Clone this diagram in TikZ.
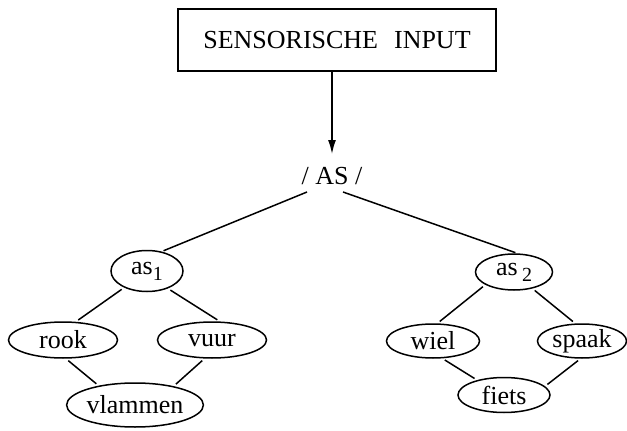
\documentclass[tikz,border=0pt]{standalone}
\usepackage{fontspec}
\setmainfont{Liberation Serif}
\newfontfamily\labelfont{Liberation Serif}
\usetikzlibrary{shapes.geometric,arrows.meta}

% subscript index for the "as" nodes
\newcommand{\idx}[1]{\raisebox{-6pt}{\fontsize{20}{20}\selectfont #1}}

\tikzset{
  x=1pt, y=-1pt,
  every node/.style={font=\labelfont\fontsize{26}{30}\selectfont},
  word/.style={ellipse, draw, line width=1.5pt, inner sep=0pt},
  link/.style={line width=1.5pt, shorten <=3pt, shorten >=3pt},
  inbox/.style={draw, line width=1.5pt, minimum width=318pt, minimum height=62pt, inner sep=0pt}
}

\begin{document}
\begin{tikzpicture}
  \useasboundingbox (0,0) rectangle (627,431);

  % input box and the word form it produces
  \node[inbox] (input) at (337,40) {SENSORISCHE\hspace{16pt}INPUT};
  \node[inner sep=0pt, anchor=base] (AS) at (332,184) {/ AS /};

  % the two meanings
  \node[word, minimum width=72pt, minimum height=41pt] (as1) at (147,271) {as\idx{1}};
  \node[word, minimum width=77pt, minimum height=36pt] (as2) at (514,272) {as\,\idx{2}};

  % associations of the first meaning
  \node[word, minimum width=109pt, minimum height=36pt] (rook) at (63,340) {rook};
  \node[word, minimum width=109pt, minimum height=36pt] (vuur) at (212,340) {vuur};
  \node[word, minimum width=134pt, minimum height=44pt] (vlammen) at (135,405) {vlammen};

  % associations of the second meaning
  \node[word, minimum width=93pt, minimum height=34pt] (wiel) at (433,341) {wiel};
  \node[word, minimum width=89pt, minimum height=34pt] (spaak) at (582,341) {spaak};
  \node[word, minimum width=92pt, minimum height=35pt] (fiets) at (504,395) {fiets};

  % arrow from input to word form
  \draw[line width=1.5pt, -{Latex[length=14pt,width=8pt]}]
    ([xshift=-5pt]input.south) -- ([yshift=30pt]AS.base);

  % word form to meanings
  \draw[line width=1.5pt, shorten >=2pt] ([xshift=-25pt,yshift=-8pt]AS.base) -- (as1.53);
  \draw[line width=1.5pt, shorten >=2pt] ([xshift=11pt,yshift=-8pt]AS.base) -- (as2.80);

  % meaning to associations
  \draw[link] (as1.216) -- (rook.55);
  \draw[link] (as1.320) -- (vuur.67);
  \draw[link] (rook.279) -- (vlammen.152);
  \draw[link] (vuur.248) -- (vlammen.26);

  \draw[link] (as2.204) -- (wiel.76);
  \draw[link] (as2.318) -- (spaak.111);
  \draw[link] (wiel.298) -- (fiets.151);
  \draw[link] (spaak.265) -- (fiets.12);
\end{tikzpicture}
\end{document}
